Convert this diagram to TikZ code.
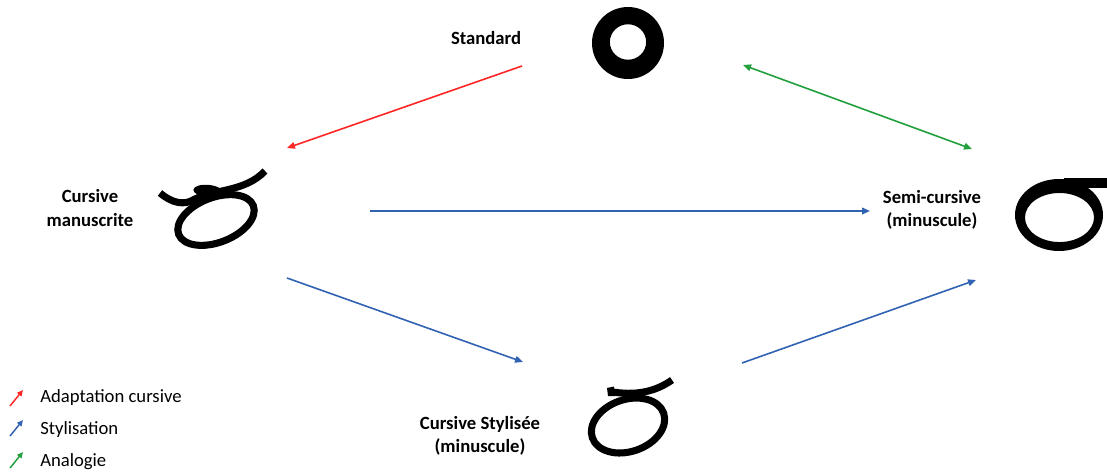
\documentclass[tikz,border=0pt]{standalone}
\usepackage{fontspec}
\setmainfont{Carlito}
\usetikzlibrary{arrows.meta}
\definecolor{cred}{HTML}{FF2626}
\definecolor{cblue}{HTML}{3163B3}
\definecolor{cgreen}{HTML}{22A03E}
\tikzset{
  lbl/.style={font=\fontsize{14pt}{17.5pt}\selectfont\bfseries, align=center, inner sep=0pt},
  leg/.style={font=\fontsize{14pt}{17pt}\selectfont, anchor=west, inner sep=0pt},
  conn/.style={line width=1.2pt, -{Triangle[length=6pt,width=5pt]}},
  legarrow/.style={line width=1.1pt, -{Triangle[length=4.5pt,width=4pt]}},
  glyph/.style={line width=5.3pt},
}
\begin{document}
\begin{tikzpicture}[x=0.75pt,y=-0.75pt]
\path[use as bounding box, fill=white] (0,0) rectangle (1107,472);
\begin{scope}
\clip (0,0) rectangle (1107,472);

% labels
\node[lbl, anchor=base] (std) at (486,44) {Standard};
\node[lbl] (cm) at (90,208) {Cursive\\manuscrite};
\node[lbl] (sc) at (932,210) {Semi-cursive\\(minuscule)};
\node[lbl] (cs) at (480,436) {Cursive Stylisée\\(minuscule)};

% glyph: standard (ring)
\coordinate (gstd) at (628,43);
\fill[black, even odd rule] (gstd) ellipse [x radius=27pt, y radius=27pt]
      (628,42) ellipse [x radius=13.6pt, y radius=13.3pt];

% glyph: cursive manuscrite
\coordinate (gcm) at (216,220);
\draw[glyph, rotate around={21:(gcm)}] (gcm) ellipse [x radius=30pt, y radius=16.8pt];
\draw[glyph] (160,193) .. controls (172,203) and (184,206) .. (195,199)
             .. controls (215,189) and (245,192) .. (265,171);
\fill[black, rotate around={-5:(208,191)}] (208,191) ellipse [x radius=11pt, y radius=4.6pt];

% glyph: semi-cursive (sigma)
\coordinate (gsc) at (1059,215);
\fill[black, even odd rule] (gsc) ellipse [x radius=33pt, y radius=27pt]
      (1059.5,217.5) ellipse [x radius=25.9pt, y radius=18.4pt];
\fill[black] (1064,178) rectangle (1112,188);

% glyph: cursive stylisee
\coordinate (gcs) at (628,425.5);
\draw[glyph, rotate around={19:(gcs)}] (gcs) ellipse [x radius=28.3pt, y radius=19.5pt];
\draw[glyph] (610,391.5) .. controls (635,396) and (655,392) .. (672,380);
\fill[black] (607,388) -- (614,386.5) -- (615,396) -- (608,396) -- cycle;
\end{scope}

% connector endpoints
\coordinate (a1) at (522,66);  \coordinate (b1) at (287,148);
\coordinate (a2) at (743,65);  \coordinate (b2) at (972,149);
\coordinate (a3) at (370,211); \coordinate (b3) at (870,211);
\coordinate (a4) at (287,278); \coordinate (b4) at (523,362);
\coordinate (a5) at (742,363); \coordinate (b5) at (976,280);

\draw[conn, cred] (a1) -- (b1);
\draw[conn, cgreen, {Triangle[length=6pt,width=5pt]}-{Triangle[length=6pt,width=5pt]}] (a2) -- (b2);
\draw[conn, cblue] (a3) -- (b3);
\draw[conn, cblue] (a4) -- (b4);
\draw[conn, cblue] (a5) -- (b5);

% legend
\coordinate (l1a) at (10,406); \coordinate (l1b) at (23,390);
\coordinate (l2a) at (10,436); \coordinate (l2b) at (23,420);
\coordinate (l3a) at (10,468); \coordinate (l3b) at (23,452);
\draw[legarrow, cred] (l1a) -- (l1b);
\draw[legarrow, cblue] (l2a) -- (l2b);
\draw[legarrow, cgreen] (l3a) -- (l3b);
\node[leg] (t1) at (40,398) {Adaptation cursive};
\node[leg] (t2) at (40,430) {Stylisation};
\node[leg] (t3) at (40,462) {Analogie};
\end{tikzpicture}
\end{document}
